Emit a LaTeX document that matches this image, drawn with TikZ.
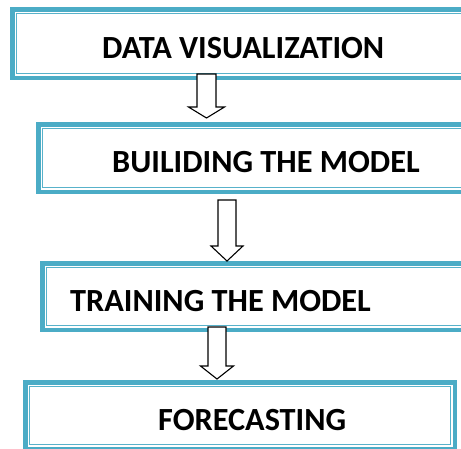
\documentclass[tikz,border=0pt]{standalone}
\usepackage{fontspec}
\setmainfont{Carlito}
\definecolor{boxblue}{RGB}{75,172,198}
\definecolor{boxthin}{RGB}{88,178,202}
\tikzset{
  x=1pt, y=-1pt,
  stagebox/.style={draw=boxblue, line width=4.5pt, rectangle, inner sep=0pt, outer sep=0pt, fill=white},
  stagetext/.style={anchor=base west, inner sep=0pt, font=\bfseries\fontsize{32.3}{36}\selectfont},
  blockarrow/.style={draw=black, line width=1.1pt, fill=white, line join=miter},
}
\newcommand{\innerframe}[1]{%
  \draw[boxthin, line width=1.3pt] ([shift={(4.3pt,-4.3pt)}]#1.north west) rectangle ([shift={(-4.3pt,4.3pt)}]#1.south east);}
\newcommand{\downblock}[7]{% name, cx, ytop, yhead, ytip, shaft half, head half
  \coordinate (#1-top) at (#2,#3);
  \coordinate (#1-tip) at (#2,#5);
  \draw[blockarrow] ($(#1-top)+(-#6,0)$) -- ($(#1-top)+(#6,0)$) -- (#2+#6,#4) -- (#2+#7,#4) -- (#1-tip) -- (#2-#7,#4) -- (#2-#6,#4) -- cycle;}
\usetikzlibrary{calc}
\begin{document}
\begin{tikzpicture}
\useasboundingbox (0,0) rectangle (461,448);
\clip (0,0) rectangle (461,448);
% boxes
\node[stagebox, minimum width=460pt, minimum height=68.5pt] (b1) at (242.25,43.5) {};
\innerframe{b1}
\node[stagebox, minimum width=434.5pt, minimum height=67.5pt] (b2) at (255.5,158) {};
\innerframe{b2}
\node[stagebox, minimum width=430.5pt, minimum height=66.5pt] (b3) at (257.5,296.5) {};
\innerframe{b3}
\node[stagebox, minimum width=429.5pt, minimum height=66.5pt] (b4) at (240,415.5) {};
\innerframe{b4}
% texts
\node[stagetext] (t1) at (102,58) {DATA VISUALIZATION};
\node[stagetext] (t2) at (112,172) {BUILIDING THE MODEL};
\node[stagetext] (t3) at (70,311) {TRAINING THE MODEL};
\node[stagetext] (t4) at (158,430) {FORECASTING};
% arrows
\downblock{a1}{206.5}{74}{107}{118}{9.5}{18}
\downblock{a2}{227}{200}{246}{261}{9}{16}
\downblock{a3}{217}{327}{366}{379}{9}{16.5}
\end{tikzpicture}
\end{document}
